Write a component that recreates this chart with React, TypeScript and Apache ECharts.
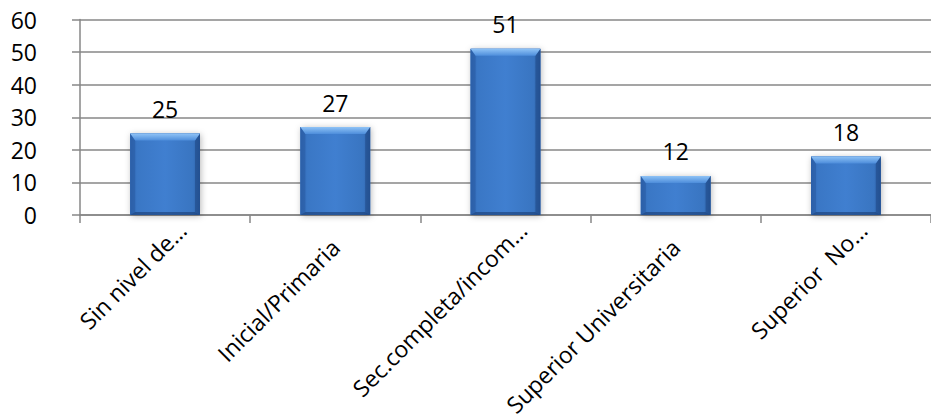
import React, { useEffect, useRef } from "react";
import * as echarts from "echarts";

// Education level categories and head counts
const categories = [
  "Sin nivel de…",
  "Inicial/Primaria",
  "Sec.completa/incom…",
  "Superior Universitaria",
  "Superior  No…",
];
const counts = [25, 27, 51, 12, 18];

// Value axis range
const yMin = 0;
const yMax = 60;
const yStep = 10;

const FONT = "'Open Sans', 'DejaVu Sans', sans-serif";
const FONT_SIZE = 23;
const GRID_GRAY = "#878787";

function renderBevelBar(params: any, api: any) {
  const idx = api.value(0);
  const val = api.value(1);
  const top = api.coord([idx, val]);
  const base = api.coord([idx, 0]);
  const bw = api.size([1, 0])[0] * 0.41;
  const left = top[0] - bw / 2;
  const right = left + bw;
  const y0 = top[1];
  const y1 = base[1];
  const h = y1 - y0;
  const bev = Math.min(7, h / 3);
  const side = 5;

  return {
    type: "group",
    children: [
      {
        type: "rect",
        shape: { x: left, y: y0, width: bw, height: h },
        style: {
          fill: "#3a76c4",
          shadowBlur: 6,
          shadowColor: "rgba(0,0,0,0.28)",
          shadowOffsetX: 1,
          shadowOffsetY: 1,
        },
      },
      {
        type: "rect",
        shape: { x: left, y: y0, width: bw, height: h },
        style: {
          fill: new echarts.graphic.LinearGradient(0, 0, 1, 0, [
            { offset: 0, color: "#3168b3" },
            { offset: 0.1, color: "#3a77c5" },
            { offset: 0.5, color: "#407fd0" },
            { offset: 0.9, color: "#3975c1" },
            { offset: 1, color: "#2c5ea3" },
          ]),
        },
      },
      {
        type: "polygon",
        shape: {
          points: [
            [left, y0],
            [left + side, y0 + bev],
            [left + side, y1 - 3],
            [left, y1],
          ],
        },
        style: { fill: "rgba(40,90,160,0.55)" },
      },
      {
        type: "polygon",
        shape: {
          points: [
            [right, y0],
            [right - side, y0 + bev],
            [right - side, y1 - 3],
            [right, y1],
          ],
        },
        style: { fill: "rgba(30,70,130,0.55)" },
      },
      {
        type: "polygon",
        shape: {
          points: [
            [left, y1],
            [left + side, y1 - 3],
            [right - side, y1 - 3],
            [right, y1],
          ],
        },
        style: { fill: "rgba(25,60,115,0.6)" },
      },
      {
        type: "polygon",
        shape: {
          points: [
            [left, y0],
            [right, y0],
            [right - side, y0 + bev],
            [left + side, y0 + bev],
          ],
        },
        style: {
          fill: new echarts.graphic.LinearGradient(0, 0, 0, 1, [
            { offset: 0, color: "#8fc3f6" },
            { offset: 1, color: "#4d8ddb" },
          ]),
        },
      },
      {
        type: "text",
        style: {
          text: String(val),
          x: top[0],
          y: y0 - 13,
          align: "center",
          verticalAlign: "bottom",
          fontSize: FONT_SIZE,
          fontFamily: FONT,
          fill: "#000",
        },
      },
    ],
  };
}

export default function App() {
  const ref = useRef<HTMLDivElement>(null);

  useEffect(() => {
    if (!ref.current) return;
    const chart = echarts.init(ref.current, undefined, { renderer: "svg" });
    chart.setOption({
      animation: false,
      backgroundColor: "#ffffff",
      grid: { left: 80, top: 19.5, width: 859, height: 199, containLabel: false },
      xAxis: {
        type: "category",
        data: categories.map((c) => ({
          value: c,
          textStyle: c.endsWith("…") ? { padding: [0, -24, 0, 0] } : {},
        })),
        boundaryGap: true,
        axisLine: { show: true, lineStyle: { color: GRID_GRAY, width: 1.5 } },
        axisTick: { show: true, length: 8, lineStyle: { color: GRID_GRAY, width: 1.5 } },
        axisLabel: {
          interval: 0,
          rotate: 45,
          margin: 28,
          fontSize: FONT_SIZE,
          fontFamily: FONT,
          color: "#000",
        },
        splitLine: { show: false },
      },
      yAxis: {
        type: "value",
        min: yMin,
        max: yMax,
        interval: yStep,
        axisLine: { show: true, lineStyle: { color: GRID_GRAY, width: 1.5 } },
        axisTick: { show: true, length: 8, lineStyle: { color: GRID_GRAY, width: 1.5 } },
        axisLabel: {
          margin: 43,
          fontSize: FONT_SIZE,
          fontFamily: FONT,
          color: "#000",
        },
        splitLine: { show: true, lineStyle: { color: GRID_GRAY, width: 1.5 } },
      },
      series: [
        {
          type: "custom",
          renderItem: renderBevelBar,
          encode: { x: 0, y: 1 },
          data: counts.map((v, i) => [i, v]),
          clip: false,
        },
      ],
    });
    return () => chart.dispose();
  }, []);

  return (
    <div
      ref={ref}
      style={{ position: "absolute", left: 0, top: 0, width: 931, height: 419 }}
    />
  );
}
